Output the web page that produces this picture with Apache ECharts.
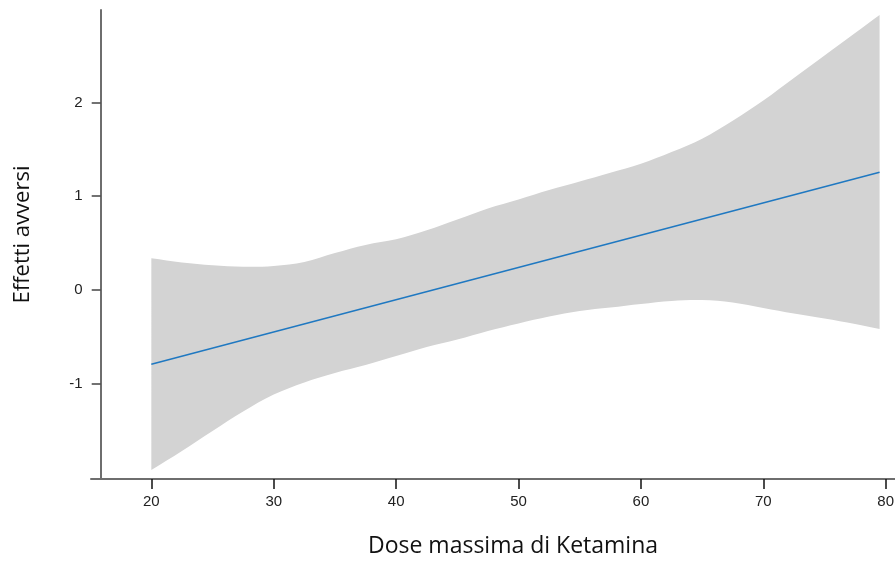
<!DOCTYPE html>
<html>
<head>
<meta charset="utf-8">
<script src="https://cdn.jsdelivr.net/npm/echarts@6/dist/echarts.min.js"></script>
<style>
  html, body { margin: 0; padding: 0; background: #fff; }
  #chart { width: 895px; height: 561px; }
</style>
</head>
<body>
<div id="chart"></div>
<script>
var doseX = [20, 22.5, 25, 27.5, 30, 32.5, 35, 37.5, 40, 42.5, 45, 47.5, 50,
             52.5, 55, 57.5, 60, 62.5, 65, 67.5, 70, 72.5, 75, 77.5, 79.5];
// upper / lower edge of the confidence band
var upperCI = [0.338, 0.293, 0.263, 0.248, 0.256, 0.299, 0.394, 0.480, 0.540, 0.636,
               0.751, 0.869, 0.965, 1.066, 1.157, 1.250, 1.345, 1.470, 1.613, 1.805,
               2.020, 2.260, 2.500, 2.740, 2.932];
var lowerCI = [-1.919, -1.716, -1.503, -1.296, -1.115, -0.986, -0.885, -0.800, -0.704, -0.608,
               -0.528, -0.437, -0.357, -0.283, -0.224, -0.187, -0.149, -0.117, -0.107, -0.133,
               -0.192, -0.251, -0.304, -0.362, -0.416];
// fitted straight line (end points)
var fitX = [20, 79.5];
var fitY = [-0.792, 1.255];

var xTicks = [20, 30, 40, 50, 60, 70, 80];
var yTicks = [-1, 0, 1, 2];

var bandData = doseX.map(function (x, i) { return [x, lowerCI[i], upperCI[i]]; });
var fitData = fitX.map(function (x, i) { return [x, fitY[i]]; });

// whole band as one polygon: upper edge left->right, lower edge right->left
// corner points are doubled so the smoothing keeps the vertical ends straight
function renderBand(params, api) {
    if (params.dataIndex !== 0) return;
    var top = [], bottom = [];
    for (var i = 0; i < bandData.length; i++) {
        top.push(api.coord([bandData[i][0], bandData[i][2]]));
        bottom.push(api.coord([bandData[i][0], bandData[i][1]]));
    }
    bottom.reverse();
    var pts = [top[0]].concat(top, [top[top.length - 1]], [bottom[0]], bottom, [bottom[bottom.length - 1]]);
    return {
        type: 'polygon',
        shape: { points: pts, smooth: 0.35 },
        style: { fill: '#d3d3d3' },
        silent: true
    };
}

var draw = echarts.init(document.getElementById('chart'));
draw.setOption({
    animation: false,
    grid: { left: 91, right: 0, top: 10, bottom: 82, outerBoundsMode: 'none' },
    xAxis: {
        type: 'value',
        min: 15.07,
        max: 80.76,
        name: 'Dose massima di Ketamina',
        nameLocation: 'middle',
        nameGap: 56,
        nameTextStyle: { fontFamily: 'Open Sans', fontSize: 23, color: '#111', padding: [0, 0, 0, 40] },
        splitLine: { show: false },
        axisLine: { onZero: false, lineStyle: { color: '#6e6e6e', width: 2 } },
        axisTick: { customValues: xTicks, length: 10, lineStyle: { color: '#111', width: 1.5 } },
        axisLabel: {
            customValues: xTicks, margin: 15,
            fontFamily: 'Liberation Sans', fontSize: 15, color: '#222'
        }
    },
    yAxis: {
        type: 'value',
        min: -2.015,
        max: 2.985,
        offset: -9.7,
        name: 'Effetti avversi',
        nameLocation: 'middle',
        nameGap: 67,
        nameTextStyle: { fontFamily: 'Open Sans', fontSize: 22, color: '#111', padding: [0, 0, 0, 20] },
        splitLine: { show: false },
        axisLine: { onZero: false, lineStyle: { color: '#6e6e6e', width: 2 } },
        axisTick: { customValues: yTicks, length: 9, lineStyle: { color: '#444', width: 1.5 } },
        axisLabel: {
            customValues: yTicks, margin: 18,
            fontFamily: 'Liberation Sans', fontSize: 15, color: '#222'
        }
    },
    series: [
        {
            type: 'custom',
            data: bandData,
            encode: { x: 0, y: [1, 2] },
            renderItem: renderBand,
            clip: true,
            silent: true,
            z: 1
        },
        {
            type: 'line', data: fitData, symbol: 'none', z: 5,
            lineStyle: { color: '#1f78c1', width: 1.5 }
        }
    ]
});
</script>
</body>
</html>
